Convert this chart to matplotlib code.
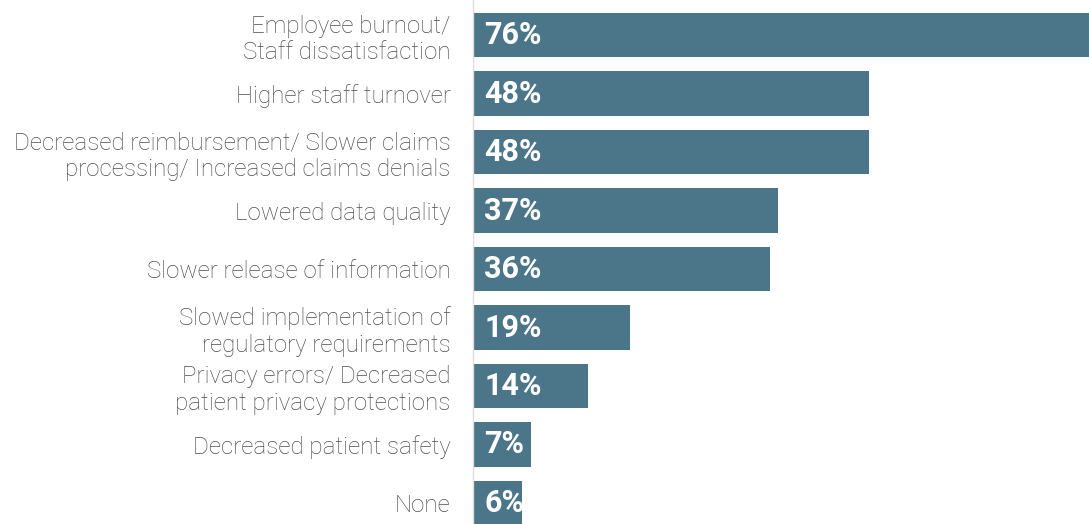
import matplotlib.pyplot as plt

plt.rcParams["font.family"] = ["Roboto", "DejaVu Sans"]

categories = [
    "Employee burnout/\nStaff dissatisfaction",
    "Higher staff turnover",
    "Decreased reimbursement/ Slower claims\nprocessing/ Increased claims denials",
    "Lowered data quality",
    "Slower release of information",
    "Slowed implementation of\nregulatory requirements",
    "Privacy errors/ Decreased\npatient privacy protections",
    "Decreased patient safety",
    "None",
]
values = [76, 48, 48, 37, 36, 19, 14, 7, 6]

bar_color = "#4b7589"

fig = plt.figure(figsize=(10.89, 5.24), dpi=100)
ax = fig.add_axes([473 / 1089, 0, 1 - 473 / 1089, 1])

ypos = list(range(len(categories)))
bars = ax.barh(ypos, values, height=0.76, color=bar_color)

ax.set_xlim(0, 74.7)
ax.set_ylim(8.36, -0.6)

ax.set_yticks(ypos)
ax.set_yticklabels(categories, fontsize=17.4, color="#4d4d4d", fontweight="light",
                   linespacing=1.18)
ax.tick_params(axis="y", length=0, pad=16)
ax.set_xticks([])

for side in ["top", "right", "bottom"]:
    ax.spines[side].set_visible(False)
ax.spines["left"].set_color("#dddddd")
ax.spines["left"].set_linewidth(1)

# percentage labels sit just inside the start of each bar
for bar, v in zip(bars, values):
    ax.annotate(f"{v}%", (0, bar.get_y() + bar.get_height() / 2),
                xytext=(8, 0), textcoords="offset points",
                ha="left", va="center", color="white",
                fontsize=22, fontweight="bold")

plt.savefig("out.png", dpi=100)
plt.close()
